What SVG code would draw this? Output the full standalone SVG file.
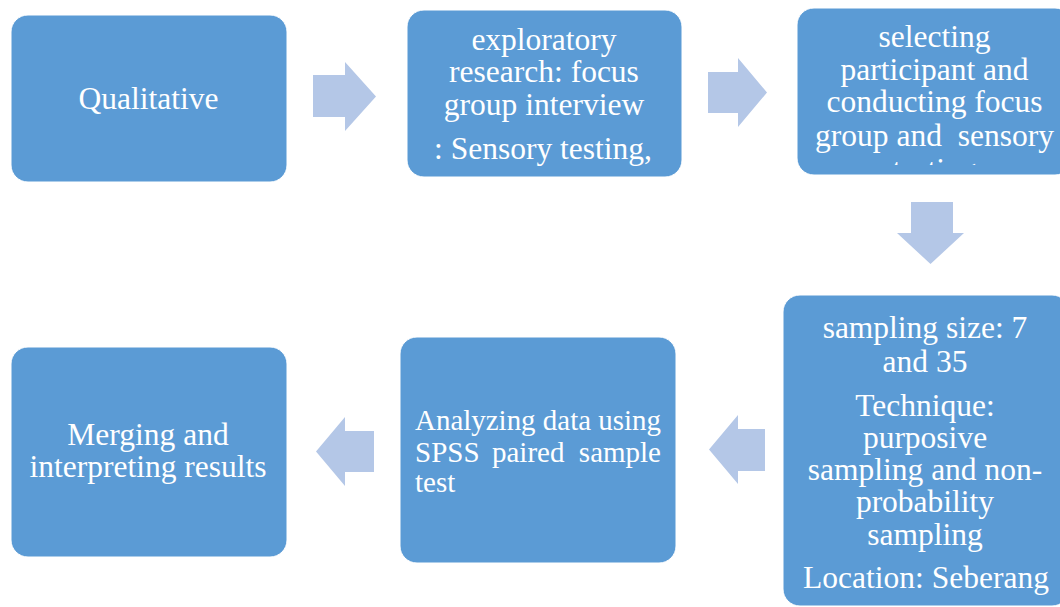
<svg xmlns="http://www.w3.org/2000/svg" width="1060" height="607" viewBox="0 0 1060 607">
<style>
.box{fill:#5B9BD5;stroke:#ffffff;stroke-width:1}
.arr{fill:#B4C7E7}
.t{font-family:'Liberation Serif','Times New Roman',serif;font-size:31.5px;fill:#ffffff;text-anchor:middle}
.s{font-family:'Liberation Serif','Times New Roman',serif;font-size:29px;fill:#ffffff}
</style>
<defs>
<clipPath id="clip3"><rect x="797" y="0" width="280" height="165"/></clipPath>
</defs>
<rect width="1060" height="607" fill="#ffffff"/>
<g id="connectors">
<polygon class="arr" points="313,75 345,75 345,62 376,96.5 345,131 345,117 313,117"/>
<polygon class="arr" points="708,72 738,72 738,58 767,92.5 738,127 738,113 708,113"/>
<polygon class="arr" points="911,202 953,202 953,233 964,233 930.5,264 897,233 911,233"/>
<polygon class="arr" points="765,429 738,429 738,415 709,449.5 738,484 738,471 765,471"/>
<polygon class="arr" points="374,431 345,431 345,417 316,451.5 345,486 345,472 374,472"/>
</g>
<g id="node-qualitative">
<rect class="box" x="11" y="15" width="276" height="167" rx="17"/>
<text class="t" x="148.5" y="109">Qualitative</text>
</g>
<g id="node-exploratory">
<rect class="box" x="407" y="10" width="275" height="167" rx="17"/>
<text class="t" x="544" y="50">exploratory</text>
<text class="t" x="544" y="82">research: focus</text>
<text class="t" x="544" y="115">group interview</text>
<text class="t" x="543" y="159">: Sensory testing,</text>
</g>
<g id="node-selecting">
<rect class="box" x="797" y="8" width="275" height="167" rx="17"/>
<text class="t" x="934.5" y="47">selecting</text>
<text class="t" x="934.5" y="80">participant and</text>
<text class="t" x="934.5" y="112">conducting focus</text>
<text class="t" x="934.5" y="146" style="white-space:pre">group and  sensory</text>
<text class="t" x="934.5" y="180" clip-path="url(#clip3)">testing</text>
</g>
<g id="node-sampling">
<rect class="box" x="783" y="295" width="286" height="311" rx="17"/>
<text class="t" x="925" y="338">sampling size: 7</text>
<text class="t" x="925" y="372">and 35</text>
<text class="t" x="925" y="416">Technique:</text>
<text class="t" x="925" y="448">purposive</text>
<text class="t" x="925" y="480">sampling and non-</text>
<text class="t" x="925" y="512">probability</text>
<text class="t" x="925" y="545">sampling</text>
<text class="t" x="926" y="588">Location: Seberang</text>
</g>
<g id="node-analyzing">
<rect class="box" x="400" y="337" width="276" height="226" rx="17"/>
<text class="s" x="415" y="430" textLength="246" lengthAdjust="spacingAndGlyphs">Analyzing data using</text>
<text class="s" x="415" y="462">SPSS</text>
<text class="s" x="492" y="462">paired</text>
<text class="s" x="661" y="462" text-anchor="end">sample</text>
<text class="s" x="415" y="492">test</text>
</g>
<g id="node-merging">
<rect class="box" x="11" y="347" width="276" height="210" rx="17"/>
<text class="t" x="148" y="445">Merging and</text>
<text class="t" x="148" y="477">interpreting results</text>
</g>
</svg>
